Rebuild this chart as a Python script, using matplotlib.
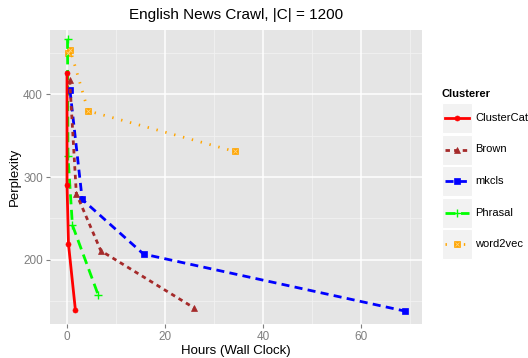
import matplotlib
matplotlib.use("Agg")
import matplotlib.pyplot as plt
from matplotlib.patches import Rectangle
from matplotlib.lines import Line2D

plt.rcParams['font.family'] = ['Liberation Sans', 'DejaVu Sans']

series_names = ["ClusterCat", "Brown", "mkcls", "Phrasal", "word2vec"]
clustercat_x = [0.0, 0.0, 0.3, 1.7]
clustercat_y = [426, 291, 219, 140]
brown_x = [0.55, 1.9, 6.9, 25.9]
brown_y = [417, 280, 211, 142]
mkcls_x = [0.6, 3.1, 15.6, 69.0]
mkcls_y = [405, 273, 207, 138]
phrasal_x = [0.1, 0.2, 1.1, 6.4]
phrasal_y = [467, 325, 242, 157]
word2vec_x = [0.15, 0.7, 4.3, 34.2]
word2vec_y = [450, 453, 380, 331]

x_ticks = [0, 20, 40, 60]
y_ticks = [200, 300, 400]

W, H = 528, 358
fig = plt.figure(figsize=(W / 100, H / 100), dpi=100)
L, R, T, B = 50, 422, 30, 324
ax = fig.add_axes([L / W, 1 - B / H, (R - L) / W, (B - T) / H])
ax.set_facecolor("#E5E5E5")
for s in ax.spines.values():
    s.set_visible(False)

for v in [10, 30, 50, 70]:
    ax.axvline(v, color="#F2F2F2", lw=0.6, zorder=0)
for v in [150, 250, 350, 450]:
    ax.axhline(v, color="#F2F2F2", lw=0.6, zorder=0)
for v in x_ticks:
    ax.axvline(v, color="white", lw=1.1, zorder=0)
for v in y_ticks:
    ax.axhline(v, color="white", lw=1.1, zorder=0)

styles = {
    "ClusterCat": dict(color="#FF0000", ls="-", marker="o", ms=3.6),
    "Brown": dict(color="#A52A2A", ls=(0, (1.6, 1.5)), marker="^", ms=4.5),
    "mkcls": dict(color="#0000FF", ls=(0, (2.9, 1.9)), marker="s", ms=4.2),
    "Phrasal": dict(color="#00FF00", ls=(0, (3.6, 2.0)), marker="+", ms=6, mew=1.0),
    "word2vec": dict(color="#FFA500", ls=(0, (0.5, 2.8)), marker="s", ms=4.3),
}
data = {
    "ClusterCat": (clustercat_x, clustercat_y),
    "Brown": (brown_x, brown_y),
    "mkcls": (mkcls_x, mkcls_y),
    "Phrasal": (phrasal_x, phrasal_y),
    "word2vec": (word2vec_x, word2vec_y),
}
order = ["word2vec", "Phrasal", "mkcls", "Brown", "ClusterCat"]
for name in order:
    xs, ys = data[name]
    st = styles[name]
    ax.plot(xs, ys, color=st["color"], ls=st["ls"], lw=2.0, marker=st["marker"],
            ms=st["ms"], mew=st.get("mew", 0.5), dash_capstyle="butt", zorder=3)
    if name == "word2vec":
        ax.plot(xs, ys, ls="none", marker="x", ms=3.0, mew=0.6, color="#FFD27F", zorder=4)

ax.set_xlim(-3.47, 72.4)
ax.set_ylim(122.5, 477.7)
ax.set_xticks(x_ticks)
ax.set_yticks(y_ticks)
ax.tick_params(axis="both", colors="#7F7F7F", labelcolor="#7F7F7F", labelsize=8.5,
               length=3, width=0.8, pad=2)

fig.text((L + R) / 2 / W, 1 - 15 / H, "English News Crawl, |C| = 1200",
         ha="center", va="center", fontsize=11, color="black")
fig.text((L + R) / 2 / W, 1 - 351 / H, "Hours (Wall Clock)",
         ha="center", va="center", fontsize=9.5, color="black")
fig.text(15 / W, 1 - 177 / H, "Perplexity", rotation=90,
         ha="center", va="center", fontsize=9.5, color="black")

# legend
lax = fig.add_axes([0, 0, 1, 1], facecolor="none")
lax.set_xlim(0, W)
lax.set_ylim(H, 0)
lax.axis("off")
lax.text(441, 94, "Clusterer", fontsize=8, fontweight="bold", va="center", ha="left")
key_top = 103
key_h = 30
key_gap = 1.5
for i, name in enumerate(series_names):
    st = styles[name]
    y0 = key_top + i * (key_h + key_gap)
    lax.add_patch(Rectangle((442, y0), 30, key_h, facecolor="#F2F2F2", edgecolor="white", lw=0.8))
    yc = y0 + key_h / 2
    lax.add_line(Line2D([445, 469], [yc, yc], color=st["color"], ls=st["ls"], lw=2.0,
                        dash_capstyle="butt"))
    lax.add_line(Line2D([457], [yc], color=st["color"], marker=st["marker"], ms=st["ms"],
                        mew=st.get("mew", 0.5), ls="none"))
    if name == "word2vec":
        lax.add_line(Line2D([457], [yc], color="#FFD27F", marker="x", ms=3.0, mew=0.6, ls="none"))
    lax.text(475, yc, name, fontsize=8, va="center", ha="left", color="black")

fig.savefig("out.png", dpi=100)
